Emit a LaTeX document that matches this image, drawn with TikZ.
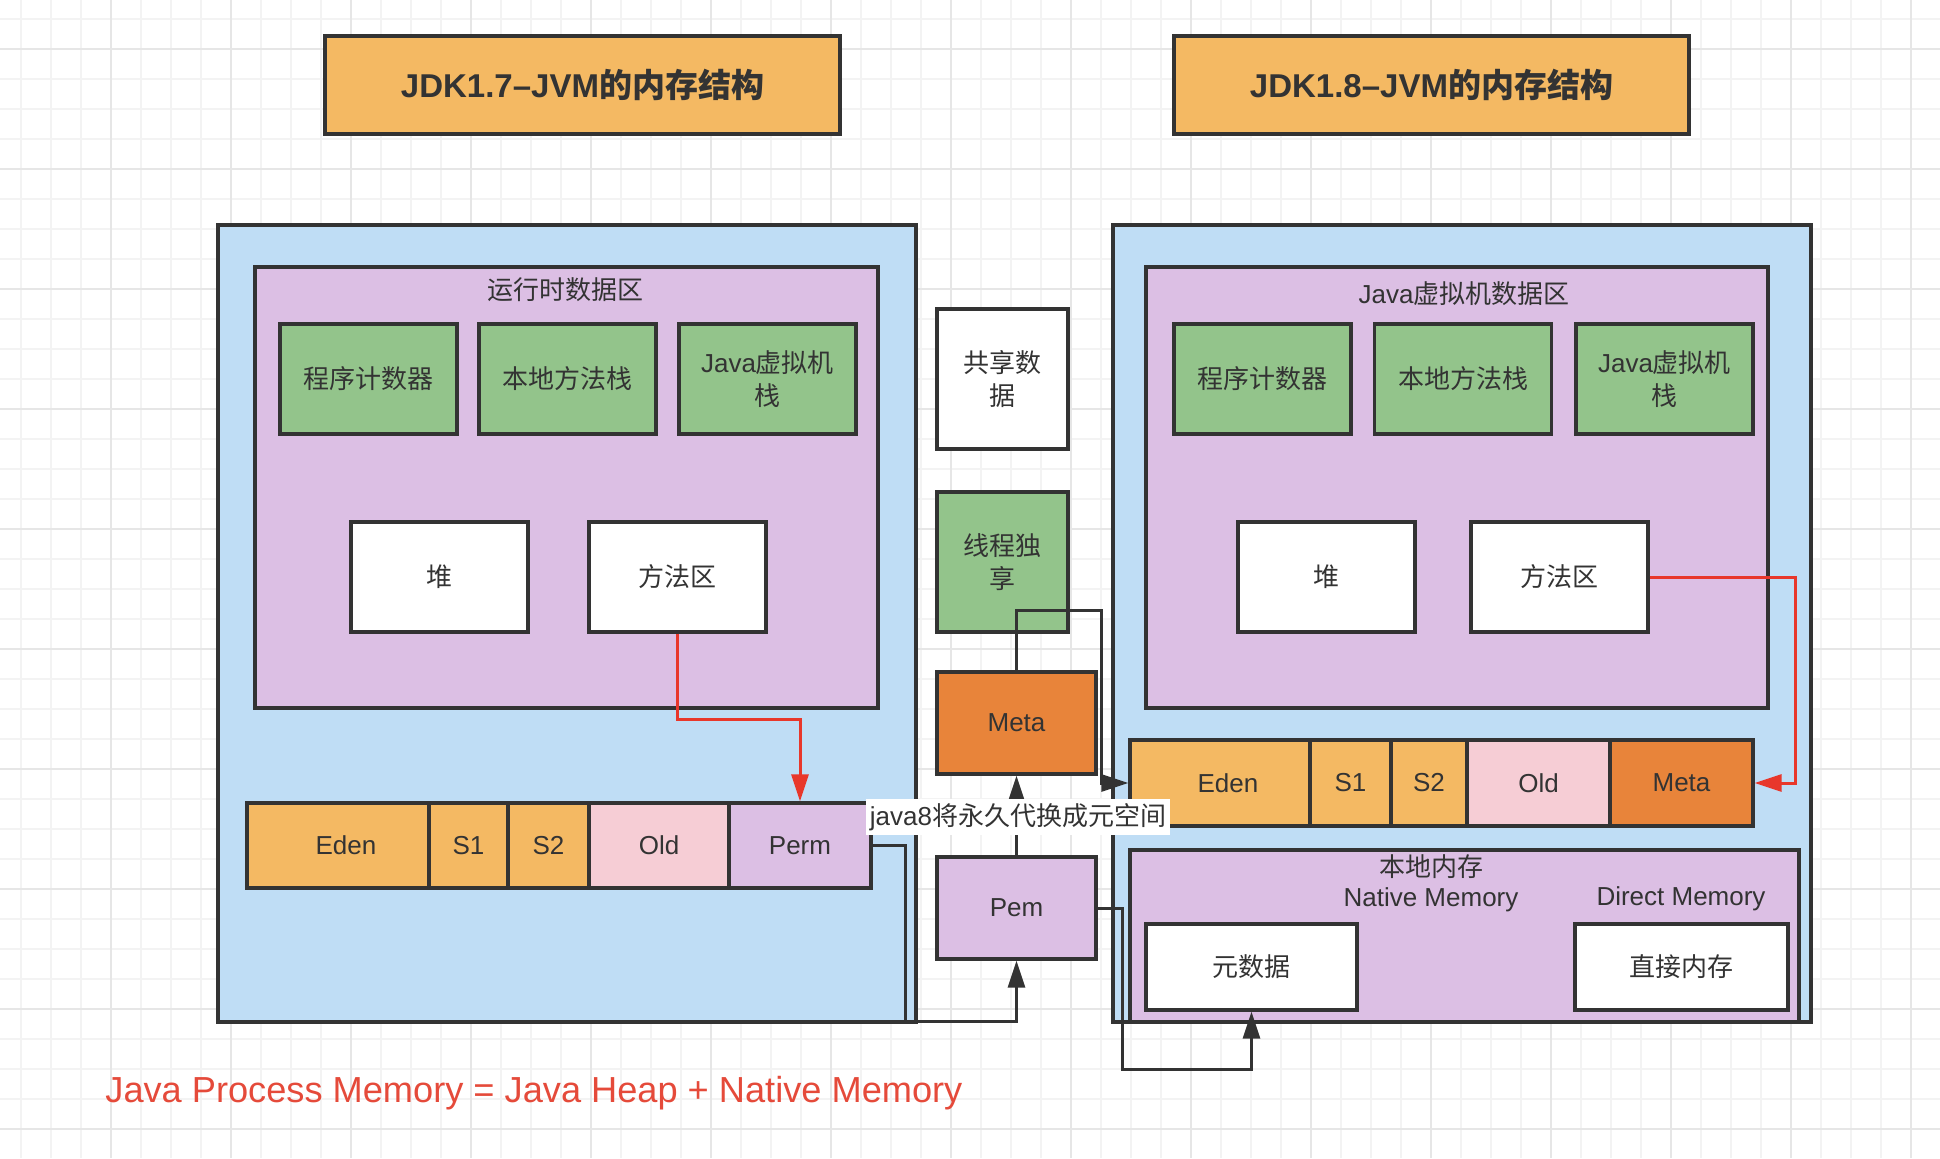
\documentclass[tikz,border=0pt]{standalone}
\usepackage{fontspec}
\setmainfont{Liberation Sans}
\newfontfamily\cjk{Noto Sans CJK SC}
\usetikzlibrary{arrows.meta}
\definecolor{ink}{HTML}{333333}
\definecolor{orng}{HTML}{F4B963}
\definecolor{bluebg}{HTML}{BFDDF5}
\definecolor{purp}{HTML}{DCBFE4}
\definecolor{grn}{HTML}{93C48B}
\definecolor{pink}{HTML}{F6CDD5}
\definecolor{metaor}{HTML}{E8843A}
\definecolor{redln}{HTML}{E8372B}
\definecolor{redtx}{HTML}{E54A3A}
\definecolor{gridmin}{HTML}{F3F3F3}
\definecolor{gridmaj}{HTML}{E6E6E6}
\tikzset{
  box/.style={draw=ink, line width=1.6pt, text=ink, inner sep=0pt, align=center,
    font=\fontsize{13}{16.5}\selectfont},
  sz/.style 2 args={minimum width=#1*0.5pt, minimum height=#2*0.5pt},
  titlefont/.style={font=\fontsize{16.5}{20}\selectfont\bfseries},
  txt/.style={text=ink, inner sep=0pt, align=center, font=\fontsize{13}{16.5}\selectfont},
  redtxt/.style={text=redtx, inner sep=0pt, font=\fontsize{18.1}{22}\selectfont},
  gmin/.style={draw=gridmin, line width=0.9pt},
  gmaj/.style={draw=gridmaj, line width=0.9pt},
  redarr/.style={draw=redln, line width=1.5pt, -{Triangle[length=13.5pt,width=8.5pt]}},
  blkarr/.style={draw=ink, line width=1.5pt, -{Triangle[length=13.5pt,width=8.5pt]}}
}
\begin{document}
\begin{tikzpicture}[x=0.5pt,y=-0.5pt]
\useasboundingbox (0,0) rectangle (1940,1158);
\fill[white] (0,0) rectangle (1940,1158);
\foreach \x in {21,51,...,1940} \draw[gmin] (\x,0) -- (\x,1158);
\foreach \y in {19,49,...,1158} \draw[gmin] (0,\y) -- (1940,\y);
\foreach \x in {111,231,...,1940} \draw[gmaj] (\x,0) -- (\x,1158);
\foreach \y in {49,169,...,1158} \draw[gmaj] (0,\y) -- (1940,\y);

% titles
\node[box, fill=orng, sz={515}{98}, titlefont] (tL) at (582.5,85) {JDK1.7–JVM{\cjk 的内存结构}};
\node[box, fill=orng, sz={515}{98}, titlefont] (tR) at (1431.5,85) {JDK1.8–JVM{\cjk 的内存结构}};

% outer containers
\node[box, fill=bluebg, sz={698}{797}] (oL) at (567,623.5) {};
\node[box, fill=bluebg, sz={698}{797}] (oR) at (1462,623.5) {};
\node[box, fill=purp, sz={623}{441}] (pL) at (566.5,487.5) {};
\node[box, fill=purp, sz={622}{441}] (pR) at (1457,487.5) {};
\node[txt] (pLlab) at (565,290) {\cjk 运行时数据区};
\node[txt] (pRlab) at (1464,294) {Java{\cjk 虚拟机数据区}};

% green boxes
\node[box, fill=grn, sz={177}{110}] (gL1) at (368.5,379) {\cjk 程序计数器};
\node[box, fill=grn, sz={177}{110}] (gL2) at (567.5,379) {\cjk 本地方法栈};
\node[box, fill=grn, sz={177}{110}] (gL3) at (767.5,379) {Java{\cjk 虚拟机}\\{\cjk 栈}};
\node[box, fill=grn, sz={177}{110}] (gR1) at (1262.5,379) {\cjk 程序计数器};
\node[box, fill=grn, sz={177}{110}] (gR2) at (1463,379) {\cjk 本地方法栈};
\node[box, fill=grn, sz={177}{110}] (gR3) at (1664.5,379) {Java{\cjk 虚拟机}\\{\cjk 栈}};

% white boxes
\node[box, fill=white, sz={177}{110}] (hL) at (439.5,577) {\cjk 堆};
\node[box, fill=white, sz={177}{110}] (fL) at (677.5,577) {\cjk 方法区};
\node[box, fill=white, sz={177}{110}] (hR) at (1326.5,577) {\cjk 堆};
\node[box, fill=white, sz={177}{110}] (fR) at (1559.5,577) {\cjk 方法区};

% middle column
\node[box, fill=white, sz={131}{140}] (share) at (1002.5,379) {{\cjk 共享数}\\{\cjk 据}};
\node[box, fill=grn, sz={131}{140}] (thr) at (1002.5,562) {{\cjk 线程独}\\{\cjk 享}};
\node[box, fill=metaor, sz={159}{102}] (meta) at (1016.5,723) {Meta};
\node[box, fill=purp, sz={159}{102}] (pem) at (1016.5,908) {Pem};

% left heap row
\node[box, fill=orng, sz={182}{85}] (edenL) at (338,845.5) {\hspace*{8pt}Eden};
\node[box, fill=orng, sz={79}{85}] (s1L) at (468.5,845.5) {S1};
\node[box, fill=orng, sz={81}{85}] (s2L) at (548.5,845.5) {S2};
\node[box, fill=pink, sz={140}{85}] (oldL) at (659,845.5) {Old};
\node[box, fill=purp, sz={142}{85}] (permL) at (800,845.5) {Perm};

% right heap row
\node[box, fill=orng, sz={180}{86}] (edenR) at (1220,783) {\hspace*{8pt}Eden};
\node[box, fill=orng, sz={81}{86}] (s1R) at (1350.5,783) {S1};
\node[box, fill=orng, sz={76}{86}] (s2R) at (1429,783) {S2};
\node[box, fill=pink, sz={143}{86}] (oldR) at (1538.5,783) {Old};
\node[box, fill=metaor, sz={143}{86}] (metaR) at (1681.5,783) {Meta};

% native memory
\node[box, fill=purp, sz={669}{172}] (nat) at (1464.5,936) {};
\node[txt] (natlab1) at (1431,867) {\cjk 本地内存};
\node[txt] (natlab2) at (1431,900) {Native Memory};
\node[txt] (dirlab) at (1681,899) {Direct Memory};
\node[box, fill=white, sz={211}{86}] (yuan) at (1251.5,967) {\cjk 元数据};
\node[box, fill=white, sz={213}{86}] (direct) at (1681.5,967) {\cjk 直接内存};

% connectors
\draw[redarr] (fL.south) -- ++(0,86) -| (permL.north);
\draw[redarr] (fR.east) -- ++(146,0) |- (metaR.east);
\draw[blkarr] (meta.north) -- ++(0,-60) -- ++(84.5,0) |- (edenR.west);
\draw[blkarr] (pem.north) -- (meta.south);
\draw[blkarr] (permL.east) -- ++(33,0) -- ++(0,175.5) -| (pem.south);
\draw[blkarr] (pem.east) -- ++(25,0) -- ++(0,161) -| (yuan.south);
\node[txt, fill=white, inner sep=2pt] (lab) at (1018,817) {java8{\cjk 将永久代换成元空间}};

\node[redtxt, anchor=base west] (formula) at (105,1102) {Java Process Memory = Java Heap + Native Memory};
\end{tikzpicture}
\end{document}
